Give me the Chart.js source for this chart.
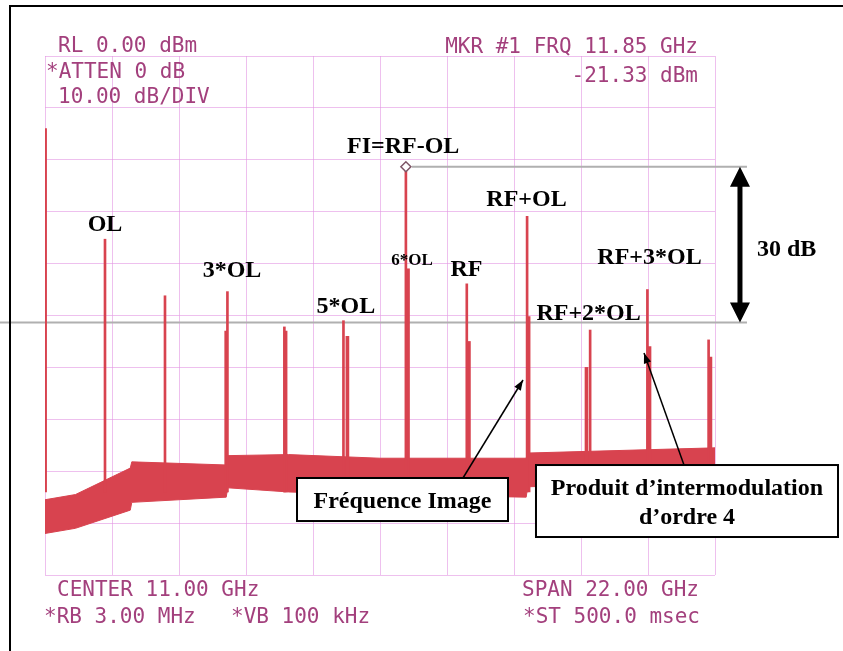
<!DOCTYPE html>
<html>
<head>
<meta charset="utf-8">
<script src="https://cdn.jsdelivr.net/npm/chart.js@4"></script>
<style>
  body { margin: 0; background: #fff; }
  canvas { display: block; }
</style>
</head>
<body>
<canvas id="spectre" width="843" height="651"></canvas>
<script>
const raiesFreq = [0.02, 1.97, 3.94, 5.99, 7.86, 9.80, 11.85, 13.85, 15.83, 17.90, 19.78, 21.79];
const raiesNiveau = [-14, -35.3, -46.2, -45.4, -52.2, -51.0, -21.33, -43.9, -30.9, -52.8, -45.0, -54.7];

// Pieds plus larges collés aux raies
const piedsFreq = [5.95, 7.90, 9.93, 11.92, 13.92, 15.88, 17.78, 19.85, 21.85];
const piedsNiveau = [-53, -53, -54, -41, -55, -50.2, -60, -56, -58];

// Plancher de bruit (bord haut / bord bas de la bande)
const bruitFreq = [0, 1.0, 2.8, 2.85, 5.95, 6.0, 8.0, 11.0, 15.8, 15.85, 22];
const bruitHaut = [-85.5, -84.5, -79.4, -78.2, -78.8, -77.0, -76.8, -77.5, -77.5, -76.5, -75.5];
const bruitBas = [-92, -91, -87.5, -86, -85, -83.2, -84, -84.5, -85, -83, -82];

// Graduations : 10 divisions de 2.2 GHz et de 10 dB
const xTicks = [0, 2.2, 4.4, 6.6, 8.8, 11, 13.2, 15.4, 17.6, 19.8, 22];
const yTicks = [0, -10, -20, -30, -40, -50, -60, -70, -80, -90, -100];

// Marqueur #1
const mkrFreq = 11.85;
const mkrNiveau = -21.33;

// Etiquettes des raies (position en GHz / dBm)
const etiquettes = ['OL', '3*OL', '5*OL', 'FI=RF-OL', 'RF', 'RF+OL', 'RF+2*OL', 'RF+3*OL', '30 dB'];
const etiqFreq = [1.97, 6.14, 9.88, 11.76, 13.84, 15.81, 17.85, 19.85, 24.35];
const etiqNiveau = [-33.7, -42.6, -49.5, -18.6, -42.4, -28.9, -50.9, -40.1, -38.5];

const rouge = '#d8434f';
const grille = 'rgba(226,150,226,0.6)';
const texteEcran = '#a3407d';

const annotations = {
  id: 'annotations',
  beforeDatasetsDraw(chart) {
    const c = chart.ctx;
    const x = chart.scales.x, y = chart.scales.y;
    c.save();
    // lignes grises à -21.33 et -51.33 dBm
    c.strokeStyle = '#b0b0b0';
    c.lineWidth = 2;
    c.beginPath();
    c.moveTo(x.getPixelForValue(12.05), y.getPixelForValue(mkrNiveau));
    c.lineTo(x.getPixelForValue(23.05), y.getPixelForValue(mkrNiveau));
    c.moveTo(x.getPixelForValue(-1.48), y.getPixelForValue(mkrNiveau - 30));
    c.lineTo(x.getPixelForValue(23.05), y.getPixelForValue(mkrNiveau - 30));
    c.stroke();
    c.restore();
  },
  afterDraw(chart) {
    const c = chart.ctx;
    const x = chart.scales.x, y = chart.scales.y;
    const px = f => x.getPixelForValue(f);
    const py = v => y.getPixelForValue(v);
    c.save();

    // textes de l'analyseur
    c.fillStyle = texteEcran;
    c.font = '21px "DejaVu Sans Mono"';
    c.textBaseline = 'alphabetic';
    c.textAlign = 'left';
    c.fillText('RL 0.00 dBm', 58, 52);
    c.fillText('*ATTEN 0 dB', 46, 78);
    c.fillText('10.00 dB/DIV', 58, 103);
    c.fillText('CENTER 11.00 GHz', 57, 596);
    c.fillText('*RB 3.00 MHz', 44, 623);
    c.fillText('*VB 100 kHz', 231, 623);
    c.fillText('SPAN 22.00 GHz', 522, 596);
    c.fillText('*ST 500.0 msec', 523, 623);
    c.textAlign = 'right';
    c.fillText('MKR #1 FRQ 11.85 GHz', 698, 53);
    c.fillText('-21.33 dBm', 698, 82);

    // étiquettes
    c.fillStyle = '#000';
    c.textAlign = 'center';
    c.font = 'bold 24px "Liberation Serif"';
    etiquettes.forEach((t, i) => c.fillText(t, px(etiqFreq[i]), py(etiqNiveau[i])));
    c.font = 'bold 17px "Liberation Serif"';
    c.fillText('6*OL', px(12.05), py(-40.3));

    // double flèche 30 dB
    const xa = px(22.82), y1 = py(mkrNiveau), y2 = py(mkrNiveau - 30);
    c.fillStyle = '#000';
    c.fillRect(xa - 2.5, y1 + 15, 5, y2 - y1 - 30);
    c.beginPath();
    c.moveTo(xa, y1); c.lineTo(xa + 10, y1 + 20); c.lineTo(xa - 10, y1 + 20); c.closePath();
    c.moveTo(xa, y2); c.lineTo(xa + 10, y2 - 20); c.lineTo(xa - 10, y2 - 20); c.closePath();
    c.fill();

    // flèches vers la fréquence image et le produit d'ordre 4
    const fleche = (f0, v0, f1, v1) => {
      const x0 = px(f0), y0 = py(v0), x1 = px(f1), y1b = py(v1);
      const a = Math.atan2(y1b - y0, x1 - x0);
      c.strokeStyle = '#000';
      c.lineWidth = 1.5;
      c.beginPath(); c.moveTo(x0, y0); c.lineTo(x1, y1b); c.stroke();
      c.beginPath();
      c.moveTo(x1, y1b);
      c.lineTo(x1 - 11 * Math.cos(a - 0.35), y1b - 11 * Math.sin(a - 0.35));
      c.lineTo(x1 - 11 * Math.cos(a + 0.35), y1b - 11 * Math.sin(a + 0.35));
      c.closePath(); c.fill();
    };
    fleche(13.725, -81.31, 15.696, -62.43);
    fleche(20.982, -78.81, 19.669, -57.23);

    // cadres de texte
    const cadre = (f0, v0, f1, v1) => {
      const x0 = px(f0), y0 = py(v0), x1 = px(f1), y1b = py(v1);
      c.fillStyle = '#fff';
      c.fillRect(x0, y0, x1 - x0, y1b - y0);
      c.strokeStyle = '#000';
      c.lineWidth = 2;
      c.strokeRect(x0, y0, x1 - x0, y1b - y0);
    };
    cadre(8.275, -81.31, 15.203, -89.6);
    cadre(16.122, -78.81, 26.039, -92.68);
    c.fillStyle = '#000';
    c.font = 'bold 24px "Liberation Serif"';
    c.fillText('Fréquence Image', px(11.74), py(-87.1));
    c.fillText('Produit d\u2019intermodulation', px(21.08), py(-84.6));
    c.fillText('d\u2019ordre 4', px(21.08), py(-90.2));

    // bord de la copie d'écran
    c.strokeStyle = '#000';
    c.lineWidth = 2;
    c.beginPath();
    c.moveTo(843, 6); c.lineTo(10, 6); c.lineTo(10, 651);
    c.stroke();
    c.restore();
  }
};

new Chart(document.getElementById('spectre'), {
  type: 'bar',
  data: {
    datasets: [
      {
        type: 'scatter',
        data: [{ x: mkrFreq, y: mkrNiveau }],
        pointStyle: 'rectRot',
        pointRadius: 5,
        borderColor: '#7d5565',
        backgroundColor: '#fff',
        borderWidth: 1.5
      },
      {
        type: 'bar',
        data: raiesFreq.map((f, i) => ({ x: f, y: [-84, raiesNiveau[i]] })),
        backgroundColor: rouge,
        barThickness: 2,
        grouped: false
      },
      {
        type: 'bar',
        data: piedsFreq.map((f, i) => ({ x: f, y: [-84, piedsNiveau[i]] })),
        backgroundColor: rouge,
        barThickness: 3,
        grouped: false
      },
      {
        type: 'line',
        data: bruitFreq.map((f, i) => ({ x: f, y: bruitHaut[i] })),
        borderColor: rouge,
        borderWidth: 1,
        pointRadius: 0,
        fill: false
      },
      {
        type: 'line',
        data: bruitFreq.map((f, i) => ({ x: f, y: bruitBas[i] })),
        borderColor: rouge,
        borderWidth: 1,
        pointRadius: 0,
        backgroundColor: rouge,
        fill: '-1'
      }
    ]
  },
  options: {
    responsive: false,
    animation: false,
    layout: { padding: { left: 45, top: 56, right: 128, bottom: 76 } },
    plugins: {
      legend: { display: false },
      tooltip: { enabled: false }
    },
    scales: {
      x: {
        type: 'linear',
        min: 0,
        max: 22,
        offset: false,
        ticks: { display: false },
        grid: { color: grille, drawTicks: false, offset: false },
        border: { display: false },
        afterBuildTicks: s => { s.ticks = xTicks.map(v => ({ value: v })); }
      },
      y: {
        min: -100,
        max: 0,
        ticks: { display: false },
        grid: { color: grille, drawTicks: false },
        border: { display: false },
        afterBuildTicks: s => { s.ticks = yTicks.map(v => ({ value: v })); }
      }
    }
  },
  plugins: [annotations]
});
</script>
</body>
</html>
